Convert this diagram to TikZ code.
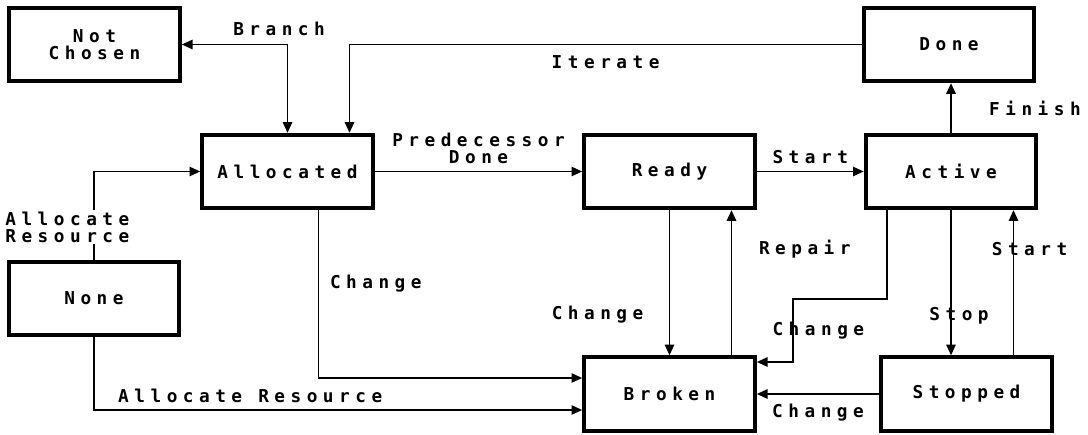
\documentclass[tikz,border=0pt]{standalone}
\usepackage{fontspec}
\setmonofont{DejaVu Sans Mono}[LetterSpace=31]
\usetikzlibrary{arrows.meta,calc}

\newcommand{\statefont}{\ttfamily\bfseries\fontsize{13.3}{12.75}\selectfont}
\tikzset{
  state/.style={draw, line width=3pt, minimum width=128pt, minimum height=55pt, align=center, font=\statefont},
  trans/.style={line width=1.3pt, ->},
  lbl/.style={font=\statefont, align=center, inner sep=1pt},
  >={Triangle[length=8pt,width=7pt]}
}

\begin{document}
\begin{tikzpicture}[x=0.75pt, y=-0.75pt]
\useasboundingbox (0,0) rectangle (1088,435);
\node[state] (notchosen) at (94.5,44.5) {Not\\Chosen};
\node[state] (allocated) at (287.5,171.5) {Allocated};
\node[state] (none) at (94,298.5) {None};
\node[state] (ready) at (669.5,171.5) {Ready};
\node[state] (active) at (951,171.5) {Active};
\node[state] (done) at (949,44.5) {Done};
\node[state] (broken) at (669.5,394) {Broken};
\node[state] (stopped) at (966.5,394) {Stopped};
\coordinate (kink) at (793,299);
\coordinate (back) at ($(stopped.north)+(47,0)$);

\draw[trans, <->] (notchosen.east) -| (allocated.north) node[lbl, pos=0.46, above=5pt] {Branch};
\draw[trans] (done.west) -| ($(allocated.north)+(62,0)$) node[lbl, pos=0.25, below=6.5pt] {Iterate};
\draw[trans] (none.north) |- (allocated.west) node[lbl, pos=0.186, xshift=-20pt, fill=white] {Allocate\\Resource};
\draw[trans] (allocated) -- (ready) node[lbl, midway, above=4pt] {Predecessor\\Done};
\draw[trans] (ready) -- (active) node[lbl, midway, above=4pt] {Start};
\draw[trans] (active.north) -- (active.north |- done.south) node[lbl, midway, right=27pt] {Finish};
\draw[trans] ($(allocated.south)+(31,0)$) |- ($(broken.west)+(0,-16)$) node[lbl, pos=0.22, right=7pt] {Change};
\draw[trans] (none.south) |- ($(broken.west)+(0,16)$) node[lbl, pos=0.66, above=4pt] {Allocate Resource};
\draw[trans] (ready.south) -- (ready.south |- broken.north) node[lbl, pos=0.72, left=18pt] {Change};
\draw[trans] ($(broken.north)+(62,0)$) -- ($(ready.south)+(62,0)$) node[lbl, pos=0.73, right=19pt] {Repair};
\draw[trans] ($(active.south)+(-64,0)$) |- (kink) |- ($(broken.east)+(0,-32)$) node[lbl, pos=0.25, xshift=19pt] {Change};
\draw[trans] (active.south) -- (active.south |- stopped.north) node[lbl, pos=0.73, xshift=6pt] {Stop};
\draw[trans] (back) -- (back |- active.south) node[lbl, pos=0.73, xshift=12pt] {Start};
\draw[trans] (stopped.west) -- (broken.east) node[lbl, midway, below=6pt] {Change};
\end{tikzpicture}
\end{document}
